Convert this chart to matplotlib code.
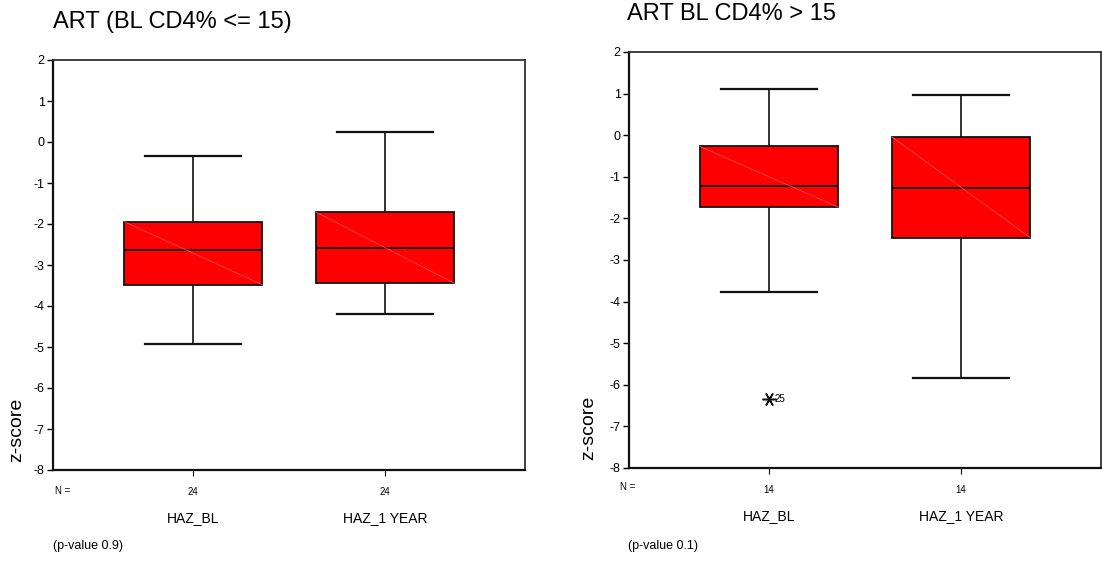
import matplotlib
matplotlib.use("Agg")
import matplotlib.pyplot as plt

NARROW = ['Liberation Sans Narrow', 'Liberation Sans', 'DejaVu Sans']
plt.rcParams['font.family'] = NARROW

# ---- data ----
categories = ["HAZ_BL", "HAZ_1 YEAR"]
titles = ["ART (BL CD4% <= 15)", "ART BL CD4% > 15"]
pvalues = ["(p-value 0.9)", "(p-value 0.1)"]
n_left = [24, 24]
n_right = [14, 14]
# left panel (CD4% <= 15)
left_whislo = [-4.93, -4.20]
left_q1 = [-3.48, -3.44]
left_med = [-2.63, -2.59]
left_q3 = [-1.94, -1.71]
left_whishi = [-0.33, 0.24]
left_fliers = [[], []]
# right panel (CD4% > 15)
right_whislo = [-3.77, -5.84]
right_q1 = [-1.73, -2.46]
right_med = [-1.22, -1.27]
right_q3 = [-0.27, -0.04]
right_whishi = [1.11, 0.97]
right_fliers = [[-6.34], []]
right_flier_ids = [["25"], []]
yticks = [2, 1, 0, -1, -2, -3, -4, -5, -6, -7, -8]

W, H = 1102, 571
fig = plt.figure(figsize=(W / 100, H / 100), dpi=100)


def px_axes(x0, y0, x1, y1):
    return fig.add_axes([x0 / W, 1 - y1 / H, (x1 - x0) / W, (y1 - y0) / H])


def panel(ax, whislo, q1, med, q3, whishi, fliers, ns):
    stats = []
    for i in range(len(categories)):
        stats.append(dict(whislo=whislo[i], q1=q1[i], med=med[i], q3=q3[i],
                          whishi=whishi[i], fliers=fliers[i], label=str(ns[i])))
    pos = [1, 2]
    ax.bxp(stats, positions=pos, widths=0.72, capwidths=0.5, patch_artist=True,
           boxprops=dict(facecolor='#ff0000', edgecolor='#111111', linewidth=1.3),
           medianprops=dict(color='#111111', linewidth=1.3),
           whiskerprops=dict(color='#111111', linewidth=1.2),
           capprops=dict(color='#111111', linewidth=1.6),
           flierprops=dict(marker=(6, 2, 90), markersize=10, markeredgecolor='#111111',
                           markeredgewidth=1.1, linestyle='none'))
    # faint diagonal artefact inside the boxes
    for i, p in enumerate(pos):
        ax.plot([p - 0.36, p + 0.36], [q3[i], q1[i]], color='#ff5a5a', lw=0.5, zorder=3)
    ax.set_xlim(1 - 0.73, 2 + 0.73)
    ax.set_ylim(-8, 2)
    ax.set_yticks(yticks)
    ax.set_yticklabels([str(t) for t in yticks], fontsize=9)
    ax.set_xticks(pos)
    ax.set_xticklabels([str(n) for n in ns], fontsize=7)
    ax.tick_params(axis='y', direction='out', length=4, width=1, pad=2)
    ax.tick_params(axis='x', direction='out', length=4, width=0.8, pad=8)
    for s in ['left', 'bottom']:
        ax.spines[s].set_linewidth(1.6)
        ax.spines[s].set_color('#111111')
    for s in ['top', 'right']:
        ax.spines[s].set_linewidth(1.3)
        ax.spines[s].set_color('#333333')


axL = px_axes(53, 60, 525, 470)
panel(axL, left_whislo, left_q1, left_med, left_q3, left_whishi, left_fliers, n_left)
axR = px_axes(629, 52, 1101, 468)
panel(axR, right_whislo, right_q1, right_med, right_q3, right_whishi, right_fliers, n_right)

# outlier id labels
for i, (vals, ids) in enumerate(zip(right_fliers, right_flier_ids)):
    for v, lab in zip(vals, ids):
        axR.annotate(lab, (i + 1, v), xytext=(4, 0), textcoords='offset points',
                     fontsize=7, va='center', ha='left')

# titles
fig.text(53 / W, 1 - 22 / H, titles[0], fontsize=17, ha='left', va='center')
fig.text(627 / W, 1 - 14 / H, titles[1], fontsize=17, ha='left', va='center')

# z-score labels
fig.text(17 / W, 1 - 430 / H, "z-score", rotation=90, fontsize=14,
         ha='center', va='center', family=['Liberation Sans', 'DejaVu Sans'])
fig.text(589 / W, 1 - 428 / H, "z-score", rotation=90, fontsize=14,
         ha='center', va='center', family=['Liberation Sans', 'DejaVu Sans'])

# N = labels
fig.text(55 / W, 1 - 491 / H, "N =", fontsize=7, ha='left', va='center')
fig.text(620 / W, 1 - 487 / H, "N =", fontsize=7, ha='left', va='center')

# category labels
for ax, yrow in [(axL, 518), (axR, 516)]:
    for i, c in enumerate(categories):
        xd = ax.transData.transform((i + 1, 0))[0]
        fig.text(xd / W, 1 - yrow / H, c, fontsize=10, ha='center', va='center')

# p-values
fig.text(53 / W, 1 - 546 / H, pvalues[0], fontsize=9, ha='left', va='center')
fig.text(628 / W, 1 - 546 / H, pvalues[1], fontsize=9, ha='left', va='center')

fig.savefig("out.png", dpi=100)
